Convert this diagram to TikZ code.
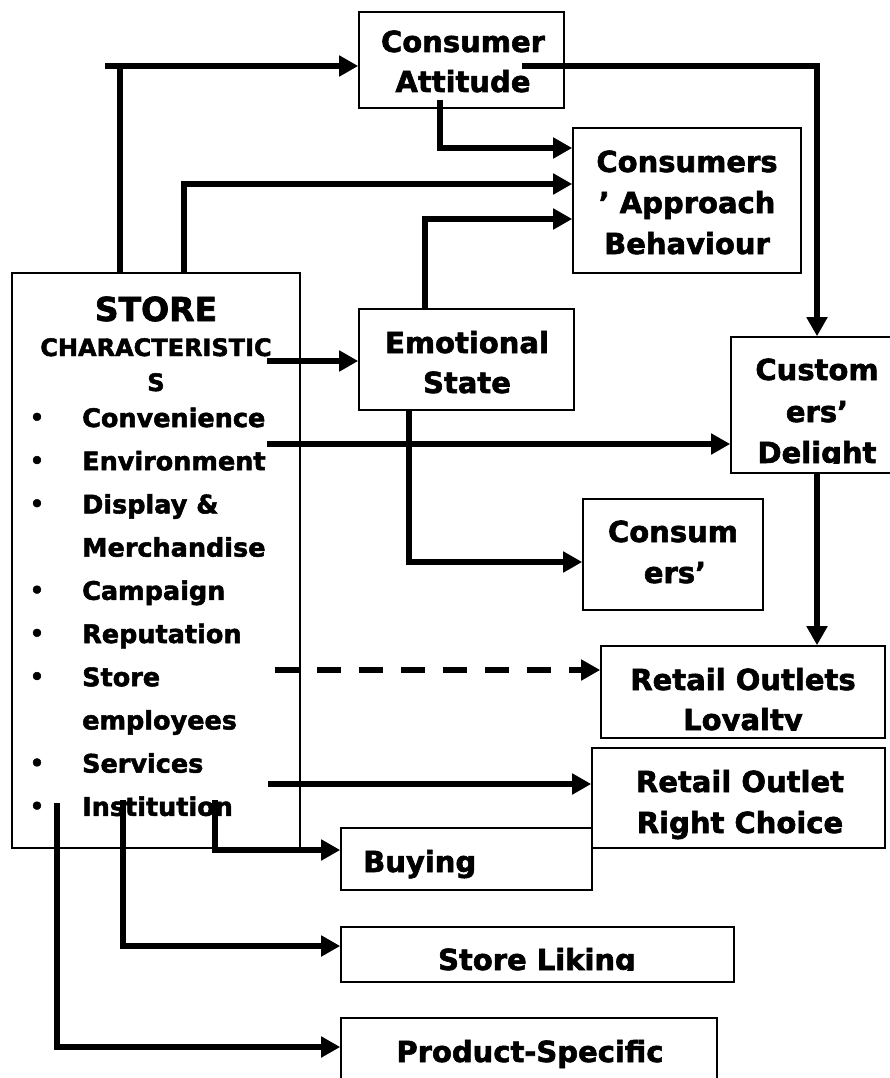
\documentclass[tikz,border=0pt]{standalone}
\usepackage{fontspec}
\setmainfont{DejaVu Sans}[BoldFeatures={FakeBold=2}]
\usetikzlibrary{arrows.meta}
\begin{document}
\begin{tikzpicture}[x=1pt,y=-1pt,
  box/.style={draw,line width=1.6pt,inner sep=0pt},
  lbl/.style={font=\bfseries\fontsize{29}{29}\selectfont,inner sep=0pt,anchor=base},
  big/.style={font=\bfseries\fontsize{33}{33}\selectfont,inner sep=0pt,anchor=base},
  mid/.style={font=\bfseries\fontsize{24}{24}\selectfont,inner sep=0pt,anchor=base},
  item/.style={font=\bfseries\fontsize{25.5}{25.5}\selectfont,inner sep=0pt,anchor=base west},
  bul/.style={font=\bfseries\fontsize{22}{22}\selectfont,inner sep=0pt,anchor=base},
  con/.style={line width=5.5pt},
  arr/.style={line width=5.5pt,-{Triangle[length=19pt,width=20pt]}},
  darr/.style={arr,dash pattern=on 24pt off 18pt},
]
\fill[white] (0,0) rectangle (890,1078);
\useasboundingbox (0,0) rectangle (890,1078);

% boxes
\node[box,minimum width=205pt,minimum height=96pt] (att) at (461.5,60) {};
\node[box,minimum width=228pt,minimum height=145pt] (app) at (687,200.5) {};
\node[box,minimum width=288pt,minimum height=575pt] (store) at (156,560.5) {};
\node[box,minimum width=215pt,minimum height=101pt] (emo) at (466.5,359.5) {};
\node[box,minimum width=172pt,minimum height=136pt] (del) at (817,405) {};
\node[box,minimum width=180pt,minimum height=111pt] (cons) at (673,554.5) {};
\node[box,minimum width=284pt,minimum height=92pt] (loy) at (743,692) {};
\node[box,minimum width=293pt,minimum height=100pt] (rc) at (738.5,798) {};
\node[box,minimum width=251pt,minimum height=62pt] (buy) at (466.5,859) {};
\node[box,minimum width=393pt,minimum height=55pt] (lik) at (537.5,954.5) {};
\node[box,minimum width=376pt,minimum height=82pt] (prod) at (529,1059) {};

% texts
\node[lbl] (att1) at (463,52) {Consumer};
\node[lbl] (att2) at (463,92) {Attitude};
\node[lbl] (app1) at (687,172) {Consumers};
\node[lbl] (app2) at (687,213) {’ Approach};
\node[lbl] (app3) at (687,254) {Behaviour};
\node[lbl] (emo1) at (467,353) {Emotional};
\node[lbl] (emo2) at (467,393) {State};
\node[lbl] (del1) at (817,380) {Custom};
\node[lbl] (del2) at (817,422) {ers’};
\begin{scope}
\clip (731,337) rectangle (903,463.5);
\node[lbl] (del3) at (817,463) {Delight};
\end{scope}
\node[lbl] (cons1) at (673,542) {Consum};
\node[lbl] (cons2) at (675,583) {ers’};
\node[lbl] (loy1) at (743,690) {Retail Outlets};
\begin{scope}
\clip (601,646) rectangle (885,730.5);
\node[lbl] (loy2) at (743,730) {Loyalty};
\end{scope}
\node[lbl] (rc1) at (740,792) {Retail Outlet};
\node[lbl] (rc2) at (740,833) {Right Choice};
\node[lbl,anchor=base west] (buy1) at (363,872) {Buying};
\begin{scope}
\clip (341,927) rectangle (734,970.5);
\node[lbl] (lik1) at (537,970) {Store Liking};
\end{scope}
\node[lbl] (prod1) at (530,1062) {Product-Specific};

\node[big] (st1) at (156,321) {STORE};
\node[mid] (st2) at (156,356) {CHARACTERISTIC};
\node[mid] (st3) at (156,391) {S};
\foreach \t [count=\i] in {Convenience,Environment,Display \&,Merchandise,Campaign,Reputation,Store,employees,Services,Institution}{
  \pgfmathsetmacro{\yy}{427+43.2*(\i-1)}
  \node[item] (it\i) at (82,\yy) {\t};
}
\foreach \i in {1,2,3,5,6,7,9,10}{
  \pgfmathsetmacro{\yy}{425+43.2*(\i-1)}
  \node[bul] (b\i) at (37,\yy) {•};
}

% connector start points
\coordinate (s1) at (120,273);
\coordinate (k1) at (120,66);
\coordinate (k0) at (105,66);
\coordinate (s2) at (184,273);
\coordinate (s3) at (440,100);
\coordinate (s4) at (425,309);
\coordinate (s5) at (522,66);
\coordinate (s6) at (267,361);
\coordinate (s7) at (267,444);
\coordinate (s8) at (409,410);
\coordinate (s10) at (275,670);
\coordinate (s11) at (268,784);
\coordinate (s12) at (215,800);
\coordinate (s13) at (123,800);
\coordinate (s14) at (57,803);

% connectors
\draw[con] (s1) -- (k1);
\draw[arr] (k0) -- (k0 -| att.west);
\draw[arr] (s2) |- (app.west |- 0,184);
\draw[arr] (s3) |- (app.west |- 0,148);
\draw[arr] (s4) |- (app.west |- 0,219);
\draw[arr] (s5) -| (del.north);
\draw[arr] (s6) -- (s6 -| emo.west);
\draw[arr] (s7) -- (s7 -| del.west);
\draw[arr] (s8) |- (cons.west |- 0,562);
\draw[arr] (del.south) -- (del.south |- loy.north);
\draw[darr] (s10) -- (s10 -| loy.west);
\draw[arr] (s11) -- (s11 -| rc.west);
\draw[arr] (s12) |- (buy.west |- 0,850);
\draw[arr] (s13) |- (lik.west |- 0,946);
\draw[arr] (s14) |- (prod.west |- 0,1047);
\end{tikzpicture}
\end{document}
